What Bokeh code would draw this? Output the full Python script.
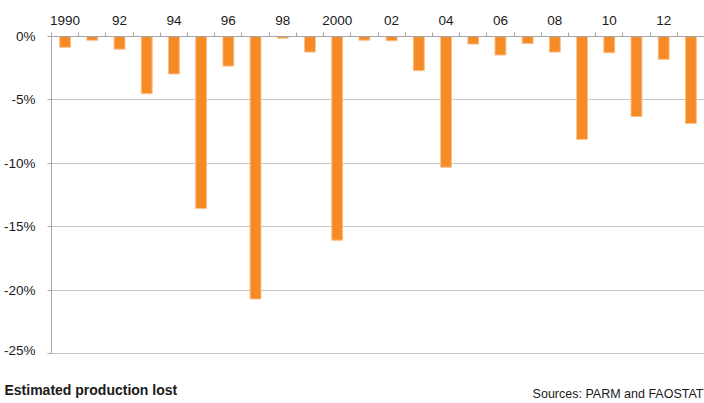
from bokeh.plotting import figure
from bokeh.layouts import column
from bokeh.models import Range1d, FixedTicker, Label, ColumnDataSource
from bokeh.embed import file_html
from bokeh.resources import INLINE

# Data
years = list(range(1990, 2014))
loss_pct = [-0.85, -0.3, -1.0, -4.5, -2.95, -13.55, -2.33, -20.67, -0.13, -1.23,
            -16.04, -0.29, -0.34, -2.69, -10.29, -0.6, -1.46, -0.55, -1.23, -8.1,
            -1.28, -6.3, -1.8, -6.85]
label_years = [1990, 1992, 1994, 1996, 1998, 2000, 2002, 2004, 2006, 2008, 2010, 2012]
label_texts = ["1990", "92", "94", "96", "98", "2000", "02", "04", "06", "08", "10", "12"]
y_ticks = [0, -5, -10, -15, -20, -25]
y_labels = ["0%", "-5%", "-10%", "-15%", "-20%", "-25%"]
title_text = "Estimated production lost"
source_text = "Sources: PARM and FAOSTAT"

FONT = "Liberation Sans"
BAR = "#F68B26"
AXIS_C = "#A6A6A6"
GRID_C = "#C6C6C6"
TXT = "#1A1A1A"

W = 704

p = figure(width=W, height=357, output_backend="svg", toolbar_location=None,
           x_axis_location="above",
           x_range=Range1d(years[0] - 0.5, years[-1] + 0.5),
           y_range=Range1d(-25.12, 0),
           min_border_left=51, min_border_right=0, min_border_top=36, min_border_bottom=2)
p.outline_line_color = None
p.frame_align = False

src = ColumnDataSource(dict(x=years, top=loss_pct))
p.vbar(x="x", top="top", bottom=0, width=0.40, source=src,
       fill_color=BAR, line_color="#FAC08C", line_width=1)

# X axis (top)
xa = p.xaxis[0]
xa.ticker = FixedTicker(ticks=label_years,
                        minor_ticks=[y - 0.5 for y in years] + [years[-1] + 0.5])
xa.major_label_overrides = {yv: t for yv, t in zip(label_years, label_texts)}
xa.major_tick_out = 0
xa.major_tick_in = 0
xa.minor_tick_out = 4
xa.minor_tick_in = 0
xa.minor_tick_line_color = AXIS_C
xa.axis_line_color = AXIS_C
xa.major_label_text_font = FONT
xa.major_label_text_font_size = "13.5px"
xa.major_label_text_color = TXT
xa.major_label_standoff = 8

# Y axis
ya = p.yaxis[0]
ya.ticker = FixedTicker(ticks=y_ticks)
ya.bounds = (-25, 0)
ya.major_label_overrides = {v: t for v, t in zip(y_ticks, y_labels)}
ya.major_tick_out = 4
ya.major_tick_in = 0
ya.minor_tick_line_color = None
ya.major_tick_line_color = AXIS_C
ya.axis_line_color = AXIS_C
ya.major_label_text_font = FONT
ya.major_label_text_font_size = "13.5px"
ya.major_label_text_color = TXT
ya.major_label_standoff = 12

p.xgrid.grid_line_color = None
p.ygrid.ticker = FixedTicker(ticks=[-5, -10, -15, -20, -25])
p.ygrid.grid_line_color = GRID_C
p.ygrid.grid_line_width = 1

# Footer
f = figure(width=W, height=46, output_backend="svg", toolbar_location=None,
           x_range=Range1d(0, W), y_range=Range1d(0, 46),
           x_axis_type=None, y_axis_type=None,
           min_border_left=0, min_border_right=0, min_border_top=0, min_border_bottom=0)
f.frame_align = False
f.outline_line_color = None
f.xgrid.grid_line_color = None
f.ygrid.grid_line_color = None
f.add_layout(Label(x=4, y=14, text=title_text,
                   text_font=FONT, text_font_size="14px", text_font_style="bold",
                   text_color=TXT, text_align="left", text_baseline="middle"))
f.add_layout(Label(x=703, y=10, text=source_text,
                   text_font=FONT, text_font_size="12.5px",
                   text_color=TXT, text_align="right", text_baseline="middle"))

layout = column(p, f, spacing=0)
open("out.html", "w").write(file_html(layout, INLINE))
